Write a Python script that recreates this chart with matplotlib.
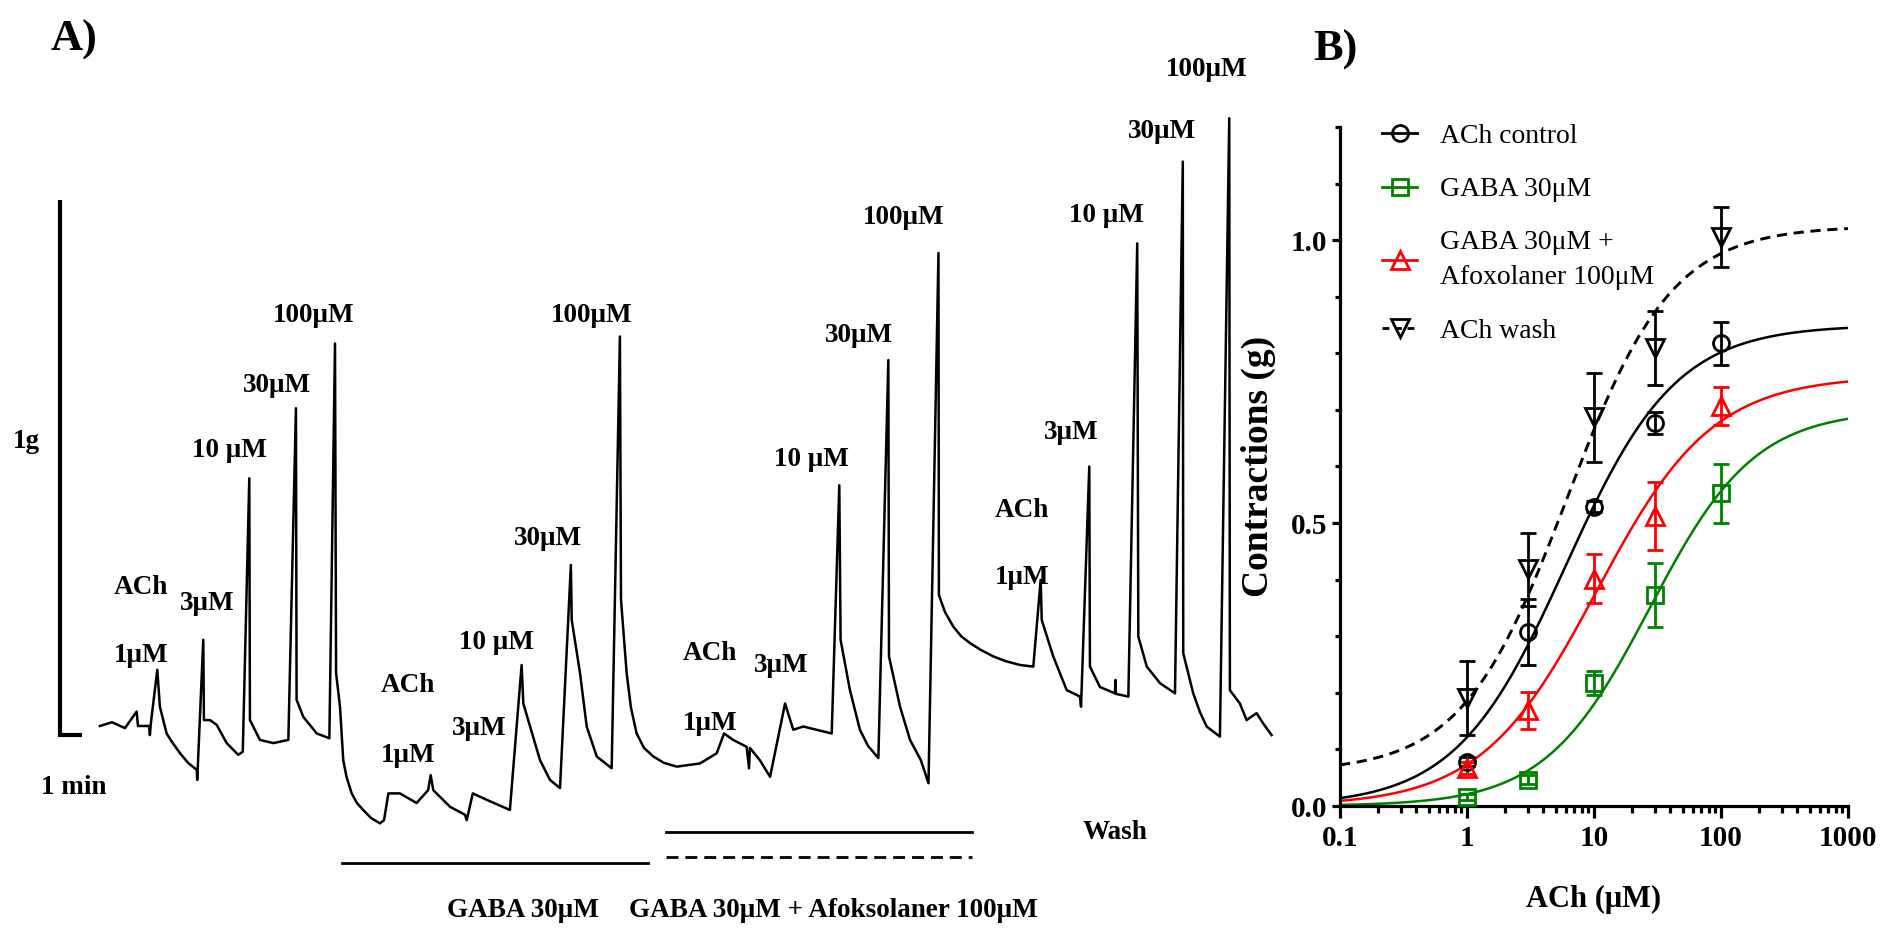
import numpy as np
import matplotlib.pyplot as plt
from matplotlib.lines import Line2D
from matplotlib.ticker import FixedLocator, FixedFormatter, LogLocator, MultipleLocator, NullFormatter

plt.rcParams['font.family'] = ['Liberation Serif', 'DejaVu Serif']

W, H = 1880, 938

# ---------------- panel A: tension trace ----------------
# time (min from start of record), tension (g relative to starting baseline)
trace_t = [0.00, 0.55, 1.15, 1.69, 1.75, 2.26, 2.30, 2.35, 2.64, 2.76, 3.07, 3.32, 3.69, 4.06, 4.46, 4.48,
           4.76, 4.79, 5.07, 5.38, 5.84, 6.37, 6.58, 6.88, 6.91, 7.37, 7.99, 8.68,
           9.03, 9.06, 9.37, 9.99, 10.57, 10.83, 10.88, 11.06, 11.21, 11.36, 11.60, 11.84, 12.13, 12.49, 12.90,
           13.09, 13.29, 13.82, 14.59, 15.12, 15.24, 15.36, 16.13, 16.82, 16.90, 17.18, 17.82,
           18.89, 19.43, 19.51, 19.82, 20.28, 20.74, 21.20, 21.70, 21.74, 22.12, 22.43, 22.89,
           23.58, 23.96, 24.01, 24.27, 24.47, 24.73, 25.07, 25.50, 25.99, 26.58,
           27.65, 28.42, 28.76, 29.18, 29.80, 29.91, 29.95, 30.41, 30.88, 31.57, 31.95, 32.41,
           33.72, 34.07, 34.13, 34.56, 35.02, 35.39, 35.87, 36.33, 36.36, 36.87, 37.33, 37.83, 38.18,
           38.64, 38.66, 38.94, 39.32, 39.68, 40.09, 40.60, 41.17, 41.75, 42.40,
           43.01, 43.35, 43.40, 43.93, 44.55, 45.16, 45.21, 45.59, 45.62, 46.08, 46.77, 46.80,
           46.82, 47.39, 47.80, 47.85, 48.24, 48.85, 49.54, 49.90, 49.92, 50.38, 50.69, 51.00, 51.61,
           52.04, 52.07, 52.53, 52.84, 53.30, 53.60, 53.99]
trace_g = [0.000, 0.007, -0.004, 0.027, 0.000, 0.000, -0.017, 0.007, 0.105, 0.036, -0.014, -0.030, -0.051, -0.069, -0.082, -0.101,
           0.161, 0.011, 0.011, 0.002, -0.032, -0.054, -0.048, 0.463, 0.011, -0.026, -0.032, -0.026,
           0.594, 0.049, 0.017, -0.014, -0.023, 0.715, 0.099, 0.036, -0.064, -0.095, -0.126, -0.144, -0.157, -0.172, -0.182,
           -0.176, -0.126, -0.126, -0.144, -0.120, -0.092, -0.120, -0.151, -0.166, -0.176, -0.126, -0.138,
           -0.157, 0.114, 0.042, -0.001, -0.064, -0.101, -0.116, 0.301, 0.198, 0.099, -0.001, -0.057,
           -0.079, 0.728, 0.236, 0.099, 0.034, -0.014, -0.041, -0.057, -0.069, -0.076,
           -0.070, -0.051, -0.014, -0.026, -0.039, -0.079, -0.041, -0.064, -0.095, 0.042, -0.007, -0.001,
           -0.014, 0.450, 0.161, 0.067, -0.007, -0.037, -0.060, 0.684, 0.130, 0.036, -0.026, -0.064, -0.107,
           0.884, 0.245, 0.213, 0.186, 0.168, 0.155, 0.142, 0.130, 0.121, 0.114,
           0.111, 0.273, 0.198, 0.130, 0.067, 0.055, 0.036, 0.485, 0.111, 0.073, 0.061, 0.086,
           0.060, 0.055, 0.902, 0.167, 0.111, 0.080, 0.061, 1.055, 0.136, 0.061, 0.026, -0.001, -0.020,
           1.136, 0.067, 0.042, 0.011, 0.024, 0.005, -0.017]

dose_labels = ['ACh', '1\u03bcM', '3\u03bcM', '10 \u03bcM', '30\u03bcM', '100\u03bcM']
gaba_period = (11.15, 25.25)
afox_period = (26.08, 40.18)
scale_g = 1.0
scale_min = 1.0

# ---------------- panel B: concentration-response ----------------
conc = [1, 3, 10, 30, 100]
ach_ctrl = [0.078, 0.308, 0.529, 0.677, 0.818]
ach_ctrl_sem = [0.008, 0.058, 0.010, 0.020, 0.038]
gaba = [0.016, 0.046, 0.217, 0.373, 0.553]
gaba_sem = [0.006, 0.008, 0.021, 0.057, 0.052]
gaba_afox = [0.067, 0.169, 0.402, 0.513, 0.707]
gaba_afox_sem = [0.010, 0.033, 0.043, 0.060, 0.034]
ach_wash = [0.191, 0.418, 0.687, 0.809, 1.005]
ach_wash_sem = [0.066, 0.065, 0.079, 0.065, 0.053]

# fitted Hill parameters: bottom, top, EC50 (uM), slope
fit_ctrl = (0.0, 0.85, 6.0, 1.0)
fit_gaba = (0.0, 0.70, 27.5, 1.05)
fit_gaba_afox = (0.0, 0.76, 10.5, 0.95)
fit_wash = (0.06, 1.025, 6.1, 1.05)

series_labels = ['ACh control', 'GABA 30\u03bcM', 'GABA 30\u03bcM +\nAfoxolaner 100\u03bcM', 'ACh wash']


def px(x, y):
    return x / W, 1 - y / H


def hill(x, p):
    b, t, ec, h = p
    return b + (t - b) / (1 + (ec / x) ** h)


fig = plt.figure(figsize=(W / 100, H / 100), dpi=100)

# panel A
axA = fig.add_axes([0, 0, 1290 / W, 1])
axA.set_xlim(-4.608, 54.84)
axA.set_ylim(-0.3963, 1.357)
axA.axis('off')
axA.plot(trace_t, trace_g, color='black', lw=1.8, solid_joinstyle='round')

x0, y0 = -1.843, -0.0168
axA.plot([x0, x0, x0 + scale_min], [y0 + scale_g, y0, y0], color='black', lw=3,
         solid_capstyle='butt', solid_joinstyle='miter')
axA.plot(gaba_period, [-0.256, -0.256], color='black', lw=2)
axA.plot(afox_period, [-0.198, -0.198], color='black', lw=2)
axA.plot(afox_period, [-0.245, -0.245], color='black', lw=2, dashes=(4.3, 2.5))

lab_kw = dict(fontsize=19.5, fontweight='bold', ha='center', va='center')
label_pos = [
    [(141, 587), (141, 655), (207, 603), (229, 450), (277, 385), (314, 315)],
    [(408, 685), (408, 755), (479, 728), (496, 642), (548, 538), (592, 315)],
    [(710, 653), (710, 723), (781, 665), (811, 460), (859, 335), (904, 218)],
    [(1022, 510), (1022, 577), (1071, 432), (1106, 215), (1162, 132), (1207, 70)],
]
for group in label_pos:
    for txt, (lx, ly) in zip(dose_labels, group):
        fig.text(*px(lx, ly), txt, **lab_kw)

fig.text(*px(26, 441), '1g', **lab_kw)
fig.text(*px(74, 787), '1 min', **lab_kw)
fig.text(*px(1115, 832), 'Wash', **lab_kw)
fig.text(*px(523, 910), 'GABA 30\u03bcM', **lab_kw)
fig.text(*px(833, 910), 'GABA 30\u03bcM + Afoksolaner 100\u03bcM', **lab_kw)
fig.text(*px(74, 40), 'A)', fontsize=32, fontweight='bold', ha='center', va='center')
fig.text(*px(1335, 50), 'B)', fontsize=32, fontweight='bold', ha='center', va='center')

# panel B
axB = fig.add_axes([1340 / W, 1 - 806 / H, 508 / W, 679 / H])
xs = np.logspace(-1, 3, 400)

styles = [
    (ach_ctrl, ach_ctrl_sem, fit_ctrl, 'black', 'o', '-'),
    (gaba, gaba_sem, fit_gaba, '#008000', 's', '-'),
    (gaba_afox, gaba_afox_sem, fit_gaba_afox, '#ff0000', '^', '-'),
    (ach_wash, ach_wash_sem, fit_wash, 'black', 'v', '--'),
]
handles = []
for (y, sem, p, c, m, ls) in styles:
    if ls == '--':
        axB.plot(xs, hill(xs, p), color=c, lw=2.1, dashes=(3.5, 2.3), zorder=2)
    else:
        axB.plot(xs, hill(xs, p), color=c, lw=1.8, zorder=2)
    ms = 12.5 if m in ('^', 'v') else 11.5
    axB.errorbar(conc, y, yerr=sem, fmt=m, ms=ms, mfc='none', mec=c, mew=2,
                 ecolor=c, elinewidth=2, capsize=6, capthick=2, zorder=3)
    h = Line2D([0], [0], color=c, lw=2, marker=m, ms=ms, mfc='none', mec=c, mew=2)
    if ls == '--':
        h.set_dashes((2.5, 2.0))
    handles.append(h)

axB.set_xscale('log')
axB.set_xlim(0.1, 1000)
axB.set_ylim(0, 1.2)
axB.xaxis.set_major_locator(FixedLocator([0.1, 1, 10, 100, 1000]))
axB.xaxis.set_major_formatter(FixedFormatter(['0.1', '1', '10', '100', '1000']))
axB.xaxis.set_minor_locator(LogLocator(base=10, subs=np.arange(2, 10)))
axB.xaxis.set_minor_formatter(NullFormatter())
axB.yaxis.set_major_locator(FixedLocator([0, 0.5, 1.0]))
axB.yaxis.set_major_formatter(FixedFormatter(['0.0', '0.5', '1.0']))
axB.yaxis.set_minor_locator(MultipleLocator(0.1))

for s in ('top', 'right'):
    axB.spines[s].set_visible(False)
for s in ('left', 'bottom'):
    axB.spines[s].set_linewidth(2.3)
axB.tick_params(which='major', width=2.3, labelsize=21)
axB.tick_params(axis='x', which='major', length=8.5, pad=5)
axB.tick_params(axis='x', which='minor', length=5, width=2.3)
axB.tick_params(axis='y', which='major', length=6, pad=3)
axB.tick_params(axis='y', which='minor', length=3.5, width=2.3)
for t in axB.get_xticklabels() + axB.get_yticklabels():
    t.set_fontweight('bold')

axB.set_ylabel('Contractions (g)', fontsize=27, fontweight='bold')
axB.yaxis.set_label_coords(-0.126, 0.5)
axB.set_xlabel('ACh (\u03bcM)', fontsize=22, fontweight='bold')
axB.xaxis.set_label_coords(0.5, -0.116)

leg = axB.legend(handles, series_labels, loc='upper left', bbox_to_anchor=(0.083, 1.005),
                 frameon=False, fontsize=20, handlelength=1.25, handletextpad=0.85,
                 labelspacing=1.0, borderpad=0, borderaxespad=0)
leg.get_texts()[2].set_linespacing(1.55)

fig.savefig('out.png', dpi=100)
